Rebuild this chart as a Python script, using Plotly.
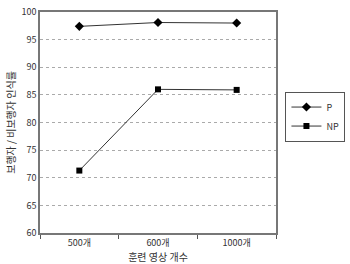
import plotly.graph_objects as go

categories = ["500개", "600개", "1000개"]
p_values = [97.4, 98.1, 98.0]
np_values = [71.3, 86.0, 85.9]
y_ticks = [60, 65, 70, 75, 80, 85, 90, 95, 100]

font = "Noto Sans CJK KR, Noto Sans, sans-serif"

fig = go.Figure()
fig.add_trace(go.Scatter(x=categories, y=p_values, name="P", mode="lines+markers",
                         line=dict(color="#333333", width=1),
                         marker=dict(symbol="diamond", size=7, color="black")))
fig.add_trace(go.Scatter(x=categories, y=np_values, name="NP", mode="lines+markers",
                         line=dict(color="#333333", width=1),
                         marker=dict(symbol="square", size=6, color="black")))

fig.update_layout(
    width=350, height=264,
    margin=dict(l=40, r=54, t=5, b=31),
    paper_bgcolor="white", plot_bgcolor="white",
    font=dict(family=font, size=9, color="#333333"),
    showlegend=True,
    legend=dict(x=1.04, y=0.64, xanchor="left", yanchor="top",
                bordercolor="#555555", borderwidth=1, bgcolor="white",
                font=dict(size=9), itemwidth=30, tracegroupgap=2),
    xaxis=dict(type="category", range=[-0.5, 2.5], showline=True, linecolor="#777777",
               linewidth=1.5, mirror=True, ticks="outside", tickson="boundaries", ticklen=4,
               tickcolor="#555555", showgrid=False,
               title=dict(text="훈련 영상 개수", font=dict(size=10), standoff=2)),
    yaxis=dict(range=[60, 100], tickvals=y_ticks, showline=True, linecolor="#777777",
               linewidth=1.5, mirror=True, ticks="", showgrid=True, ticklabeloverflow="allow",
               gridcolor="#aaaaaa", griddash="dot", gridwidth=1, zeroline=False,
               title=dict(text="보행자 / 비보행자 인식률", font=dict(size=10), standoff=4)),
)

fig.write_html("out.html")
